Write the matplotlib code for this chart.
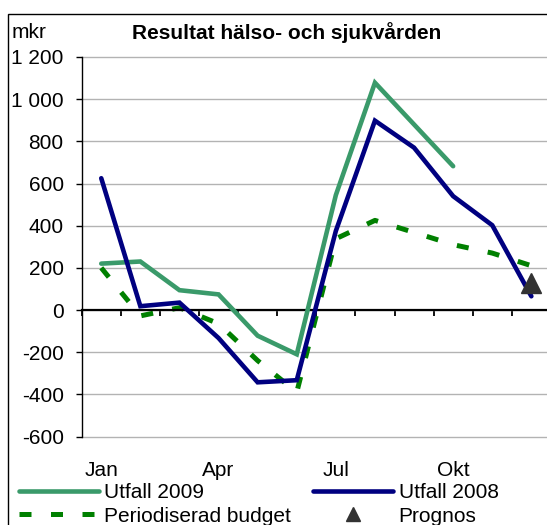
import matplotlib
matplotlib.use("Agg")
import matplotlib.pyplot as plt
import matplotlib.transforms as mtransforms
from matplotlib.patches import Rectangle

plt.rcParams['font.family'] = ['Liberation Sans', 'DejaVu Sans']

months = ["Jan", "Feb", "Mar", "Apr", "Maj", "Jun", "Jul", "Aug", "Sep", "Okt", "Nov", "Dec"]
shown_labels = ["Jan", "Apr", "Jul", "Okt"]
utfall_2009 = [220, 230, 94, 74, -122, -210, 545, 1078, 880, 682]
utfall_2008 = [625, 18, 35, -133, -343, -333, 375, 898, 770, 540, 402, 65]
budget = [200, -28, 11, -65, -240, -390, 338, 425, 368, 310, 270, 210]
prognos_month = "Dec"
prognos_value = 130
yticks = [-600, -400, -200, 0, 200, 400, 600, 800, 1000, 1200]
ytick_labels = ["-600", "-400", "-200", "0", "200", "400", "600", "800", "1 000", "1 200"]

FS = 15
W, H = 547, 525
fig = plt.figure(figsize=(W / 100, H / 100), dpi=100)

# outer chart frame
fig.patches.append(Rectangle((8 / W, -0.1), 1.2, 1.1 - 14 / H, transform=fig.transFigure,
                             fill=False, edgecolor='black', linewidth=1.0, zorder=0))

ax_left, ax_right = 81.7, 81.7 + 12 * 39.1
ax_top, ax_bottom = 57, 436.5
ax = fig.add_axes([ax_left / W, (H - ax_bottom) / H, (ax_right - ax_left) / W, (ax_bottom - ax_top) / H])

x_idx = list(range(len(months)))
ax.plot(x_idx[:len(utfall_2009)], utfall_2009, color='#3A9A6A', lw=3.3,
        solid_capstyle='round', solid_joinstyle='miter', zorder=3, label='Utfall 2009')
ax.plot(x_idx[:len(utfall_2008)], utfall_2008, color='#000080', lw=3.3,
        solid_capstyle='round', solid_joinstyle='miter', zorder=4, label='Utfall 2008')
ax.plot(x_idx[:len(budget)], budget, color='#008000', lw=3.6, dashes=(2.4, 3.9),
        dash_capstyle='butt', zorder=2, label='Periodiserad budget')
ax.plot([months.index(prognos_month)], [prognos_value], linestyle='none', marker='^',
        markersize=15, color='#333333', zorder=5, label='Prognos')

ax.set_xlim(-0.5, len(months) - 0.5)
ax.set_ylim(yticks[0], yticks[-1])
ax.set_yticks(yticks)
ax.set_yticklabels(ytick_labels, fontsize=FS)
ax.yaxis.grid(True, color='#B3B3B3', linewidth=1.0)
for gl in ax.get_ygridlines():
    gl.set_clip_on(False)
ax.set_axisbelow(True)

for s in ['top', 'right']:
    ax.spines[s].set_visible(False)
ax.spines['left'].set_linewidth(1.0)
ax.spines['bottom'].set_position(('data', 0))
ax.spines['bottom'].set_linewidth(1.6)
ax.spines['bottom'].set_zorder(2.5)

ax.set_xticks([i - 0.5 for i in range(len(months) + 1)])
ax.set_xticklabels([])
ax.tick_params(axis='x', direction='out', length=4.5, width=1.3, color='black')
ax.tick_params(axis='y', direction='out', length=4.5, width=1.0, pad=8.5)

trans = mtransforms.blended_transform_factory(ax.transData, fig.transFigure)
for lab in shown_labels:
    ax.text(months.index(lab), 1 - 470 / H, lab, transform=trans, ha='center', va='center',
            fontsize=FS)

fig.text(12 / W, 1 - 33 / H, "mkr", fontsize=FS, ha='left', va='center')
fig.text(287 / W, 1 - 33 / H, "Resultat hälso- och sjukvården", fontsize=15,
         fontweight='bold', ha='center', va='center')

handles, labels = ax.get_legend_handles_labels()
order = [0, 2, 1, 3]
fig.legend([handles[i] for i in order], [labels[i] for i in order], ncol=2,
           loc='upper left', bbox_to_anchor=(19 / W, 1 - 483 / H), frameon=False,
           fontsize=FS, handlelength=3.85, handletextpad=0.25, columnspacing=1.05,
           labelspacing=0.22, borderpad=0, borderaxespad=0, markerscale=0.7)

fig.savefig("out.png", dpi=100)
